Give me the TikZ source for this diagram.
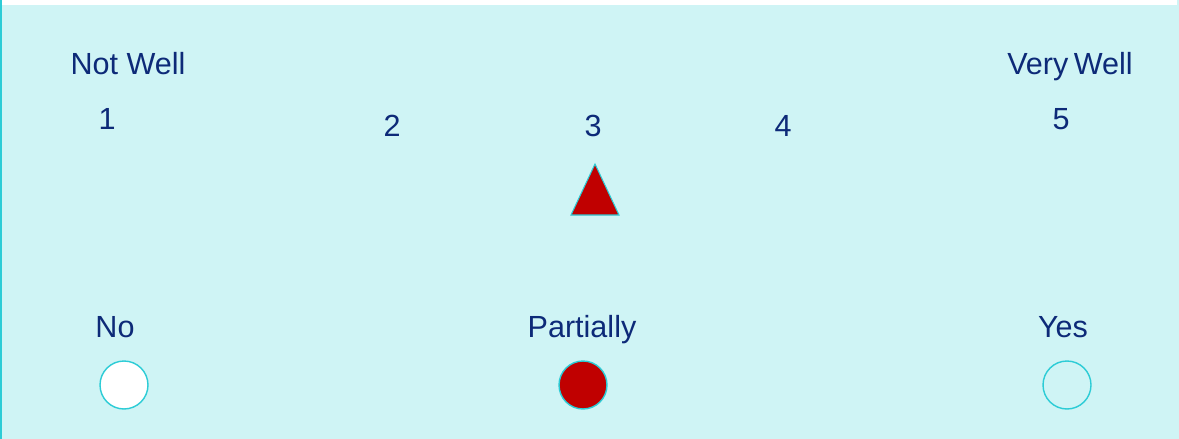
\documentclass[tikz,border=0pt]{standalone}
\usepackage{fontspec}
\setmainfont{Liberation Sans}
\usetikzlibrary{positioning}

\definecolor{panelbg}{HTML}{CFF4F5}
\definecolor{edgecyan}{HTML}{2CCCD6}
\definecolor{labelblue}{HTML}{0D2A78}
\definecolor{markred}{HTML}{C00000}

\begin{document}
\begin{tikzpicture}[x=0.02cm, y=-0.02cm,
		label_text/.style={text=labelblue, inner sep=0pt, anchor=base, font=\fontsize{17.4}{20}\selectfont},
		choice/.style={circle, draw=edgecyan, line width=0.8pt, minimum size=0.96cm, inner sep=0pt},
		marker/.style={draw=edgecyan, line width=0.6pt, fill=markred}
	]

	% Panel background
	\useasboundingbox (0,0) rectangle (1179,439);
	\fill[panelbg] (0,0) rectangle (1179,439);
	\fill[white] (2,0) rectangle (1177,5);
	\fill[edgecyan] (0,0) rectangle (2,439);

	% Scale ends
	\node [label_text] (notwell) at (128,74) {Not Well};
	\node [label_text] (verywell) at (1070,74) {Very\hspace{-0.1em} Well};

	% Scale values
	\node [label_text] (v1) at (107,130) {1};
	\node [label_text] (v2) at (392,136) {2};
	\node [label_text] (v3) at (593,136) {3};
	\node [label_text] (v4) at (783,136) {4};
	\node [label_text] (v5) at (1061,130) {5};

	% Pointer on value 3
	\draw [marker] (595,164) -- (619,215) -- (571,215) -- cycle;

	% Answer options
	\node [label_text] (no) at (115,337) {No};
	\node [label_text] (partially) at (582,337) {Partially};
	\node [label_text] (yes) at (1063,337) {Yes};

	\node [choice, fill=white] (c_no) at (124,385) {};
	\node [choice, fill=markred] (c_partially) at (583,385) {};
	\node [choice] (c_yes) at (1067,385) {};

\end{tikzpicture}
\end{document}
